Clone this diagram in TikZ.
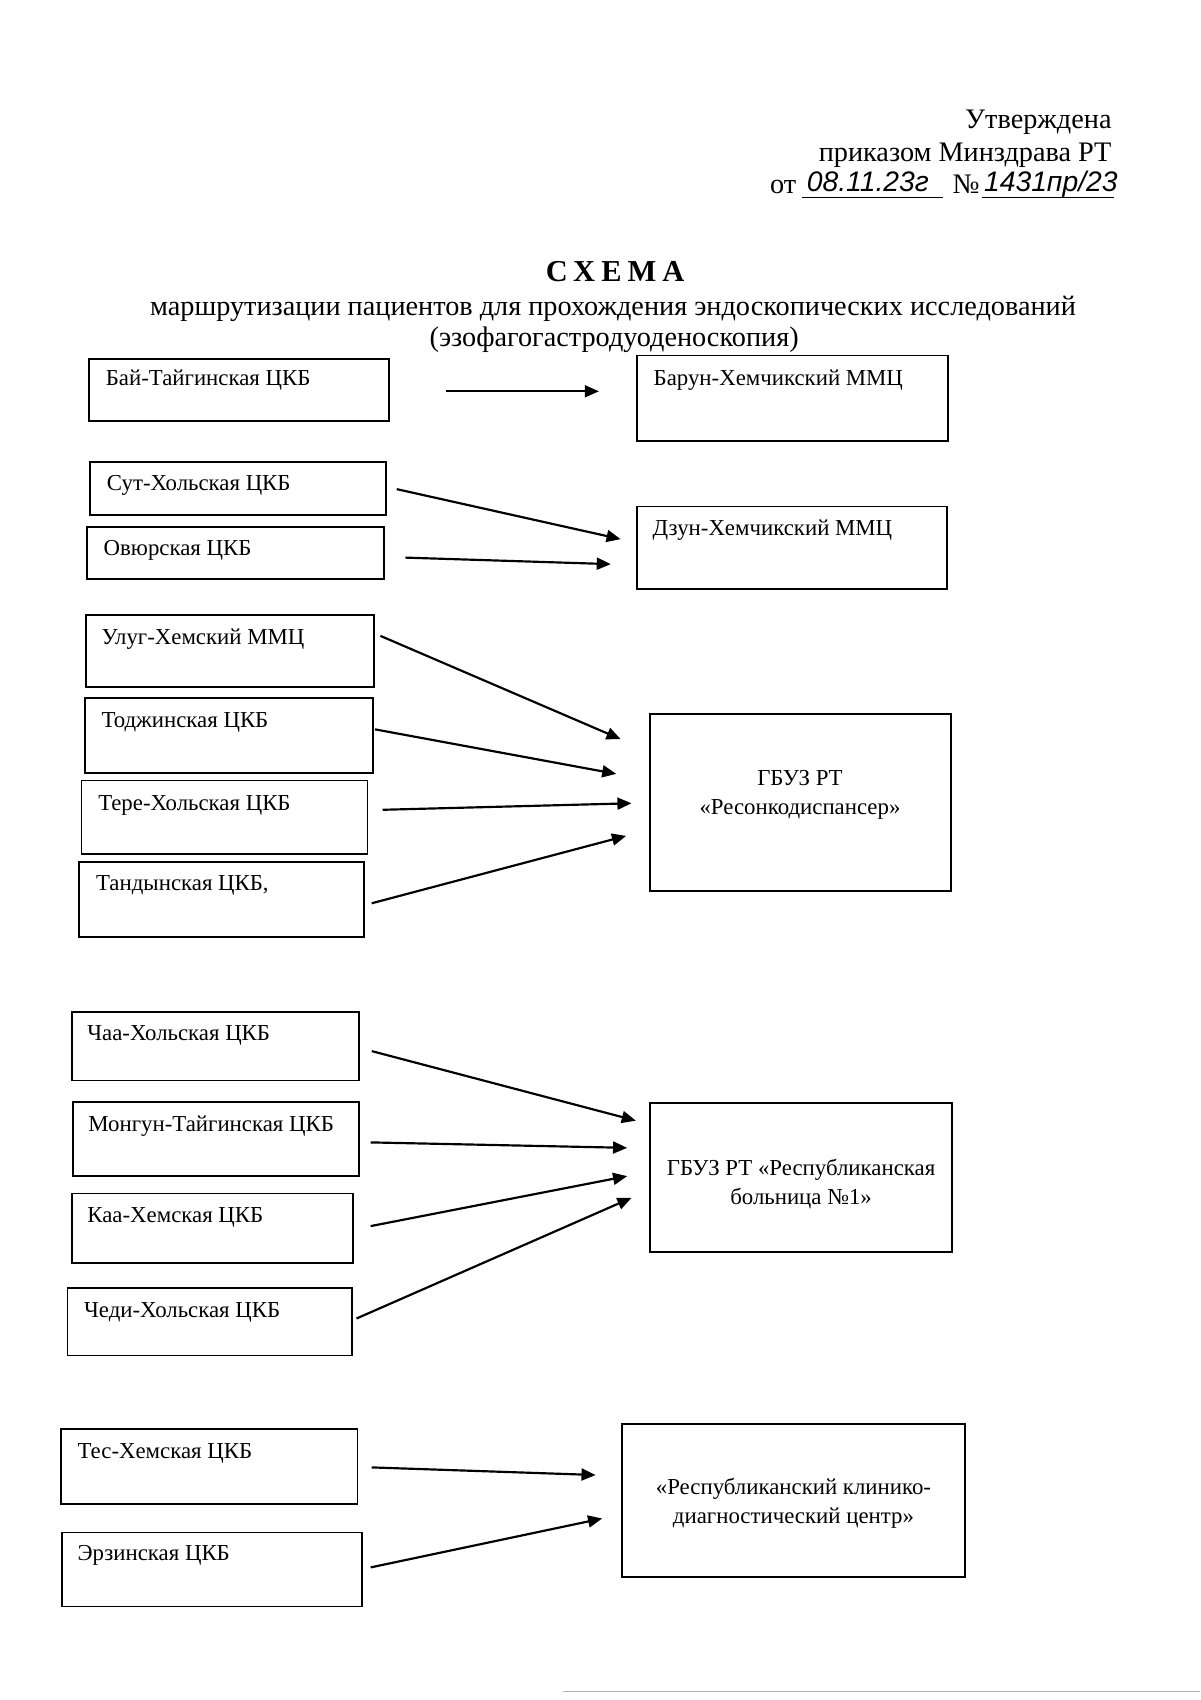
\documentclass[tikz,border=0pt]{standalone}
\usepackage{fontspec}
\setmainfont{Liberation Serif}
\newfontfamily\hand{Liberation Sans}
\usetikzlibrary{arrows.meta,fit,calc}
\tikzset{
  box/.style={draw, line width=0.8pt, inner sep=0pt, rectangle},
  lbl/.style={inner sep=0pt, anchor=base west, font=\fontsize{10.5}{12}\selectfont},
  clbl/.style={inner sep=0pt, align=center, font=\fontsize{10.5}{13.5}\selectfont},
  arr/.style={line width=1pt, -{Triangle[length=6.5pt,width=5.5pt]}},
  head/.style={inner sep=0pt, font=\fontsize{13}{15}\selectfont},
}
\begin{document}
\begin{tikzpicture}[x=0.5pt,y=-0.5pt]
\useasboundingbox (0,0) rectangle (1104,1564);
% header
\node[head, anchor=base east] (h1) at (1023,118) {Утверждена};
\node[head, anchor=base east] (h2) at (1023,149) {приказом Минздрава РТ};
\node[head, anchor=base west] (h3) at (708,178) {от};
\node[head, anchor=base west] (h4) at (876,178) {№};
\coordinate (u1a) at (738,182); \coordinate (u1b) at (868,182);
\coordinate (u2a) at (903,182); \coordinate (u2b) at (1025,182);
\draw[line width=0.5pt] (u1a) -- (u1b);
\draw[line width=0.5pt] (u2a) -- (u2b);
\node[inner sep=0pt, anchor=base west, font=\hand\itshape\fontsize{13}{15}\selectfont] (d1) at (742,176) {08.11.23г};
\node[inner sep=0pt, anchor=base west, font=\hand\itshape\fontsize{13}{15}\selectfont] (d2) at (905,176) {1431пр/23};
% title
\node[inner sep=0pt, anchor=base, font=\bfseries\fontsize{14}{16}\selectfont\addfontfeature{LetterSpace=20}] (t1) at (566,259) {СХЕМА};
\node[head, anchor=base] (t2) at (564,290) {маршрутизации пациентов для прохождения эндоскопических исследований};
\node[head, anchor=base] (t3) at (565,319) {(эзофагогастродуоденоскопия)};
% group 1
\node[box, fit={(82,330) (358,387)}] (b1) {};
\node[lbl] (b1t) at (97,355) {Бай-Тайгинская ЦКБ};
\node[box, fit={(586,327) (872,406)}] (r1) {};
\node[lbl] (r1t) at (601,355) {Барун-Хемчикский ММЦ};
\coordinate (s1) at (410,360); \coordinate (e1) at (551,360);
\draw[arr] (s1) -- (e1);
% group 2
\node[box, fit={(83,425) (355,474)}] (b2) {};
\node[lbl] (b2t) at (98,451) {Сут-Хольская ЦКБ};
\node[box, fit={(80,485) (353,533)}] (b3) {};
\node[lbl] (b3t) at (95,511) {Овюрская ЦКБ};
\node[box, fit={(586,466) (871,542)}] (r2) {};
\node[lbl] (r2t) at (600,493) {Дзун-Хемчикский ММЦ};
\coordinate (s2) at (365,450); \coordinate (e2) at (571,496);
\coordinate (s3) at (373,513); \coordinate (e3) at (562,519);
\draw[arr] (s2) -- (e2);
\draw[arr] (s3) -- (e3);
% group 3
\node[box, fit={(79,566) (344,632)}] (b4) {};
\node[lbl] (b4t) at (93,593) {Улуг-Хемский ММЦ};
\node[box, fit={(78,642) (343,711)}] (b5) {};
\node[lbl] (b5t) at (93,669) {Тоджинская ЦКБ};
\node[box, fit={(75,718) (338,786)}] (b6) {};
\node[lbl] (b6t) at (90,746) {Тере-Хольская ЦКБ};
\node[box, fit={(73,793) (335,862)}] (b7) {};
\node[lbl] (b7t) at (88,819) {Тандынская ЦКБ,};
\node[box, fit={(598,657) (875,820)}] (r3) {};
\node[clbl] (r3t) at (736,731) {ГБУЗ РТ\\«Ресонкодиспансер»};
\coordinate (s4) at (350,585); \coordinate (e4) at (571,680);
\coordinate (s5) at (345,671); \coordinate (e5) at (567,712);
\coordinate (s6) at (352,745); \coordinate (e6) at (581,739);
\coordinate (s7) at (342,831); \coordinate (e7) at (576,769);
\draw[arr] (s4) -- (e4);
\draw[arr] (s5) -- (e5);
\draw[arr] (s6) -- (e6);
\draw[arr] (s7) -- (e7);
% group 4
\node[box, fit={(66,931) (330,994)}] (b8) {};
\node[lbl] (b8t) at (80,957) {Чаа-Хольская ЦКБ};
\node[box, fit={(67,1014) (330,1082)}] (b9) {};
\node[lbl] (b9t) at (81,1041) {Монгун-Тайгинская ЦКБ};
\node[box, fit={(66,1098) (325,1162)}] (b10) {};
\node[lbl] (b10t) at (80,1125) {Каа-Хемская ЦКБ};
\node[box, fit={(62,1185) (324,1247)}] (b11) {};
\node[lbl] (b11t) at (77,1212) {Чеди-Хольская ЦКБ};
\node[box, fit={(598,1015) (876,1152)}] (r4) {};
\node[clbl] (r4t) at (737,1089) {ГБУЗ РТ «Республиканская\\больница №1»};
\coordinate (s8) at (342,967); \coordinate (e8) at (585,1031);
\coordinate (s9) at (341,1051); \coordinate (e9) at (577,1056);
\coordinate (s10) at (341,1128); \coordinate (e10) at (577,1082);
\coordinate (s11) at (328,1213); \coordinate (e11) at (581,1102);
\draw[arr] (s8) -- (e8);
\draw[arr] (s9) -- (e9);
\draw[arr] (s10) -- (e10);
\draw[arr] (s11) -- (e11);
% group 5
\node[box, fit={(56,1315) (329,1384)}] (b12) {};
\node[lbl] (b12t) at (71,1342) {Тес-Хемская ЦКБ};
\node[box, fit={(57,1410) (333,1478)}] (b13) {};
\node[lbl] (b13t) at (71,1436) {Эрзинская ЦКБ};
\node[box, fit={(572,1310) (888,1451)}] (r5) {};
\node[clbl] (r5t) at (730,1383) {«Республиканский клинико-\\диагностический центр»};
\coordinate (s12) at (342,1350); \coordinate (e12) at (548,1357);
\coordinate (s13) at (341,1442); \coordinate (e13) at (554,1397);
\draw[arr] (s12) -- (e12);
\draw[arr] (s13) -- (e13);
% scan line at bottom
\coordinate (l1) at (518,1556); \coordinate (l2) at (1104,1556);
\draw[gray!60, line width=0.4pt] (l1) -- (l2);
\end{tikzpicture}
\end{document}
